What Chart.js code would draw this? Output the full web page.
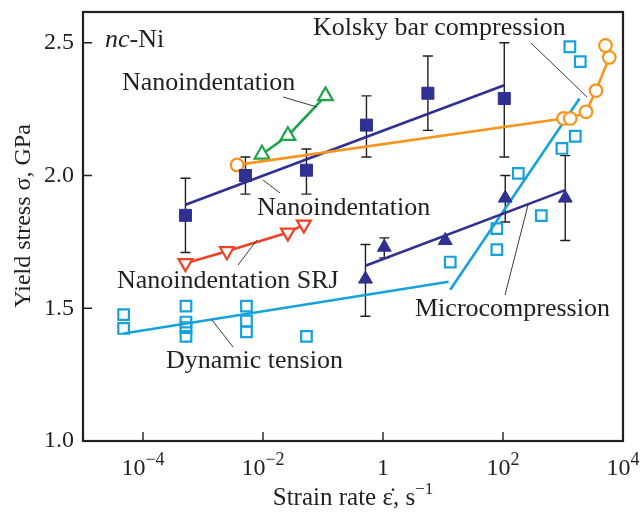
<!DOCTYPE html>
<html>
<head>
<meta charset="utf-8">
<title>nc-Ni yield stress vs strain rate</title>
<script src="https://cdn.jsdelivr.net/npm/chart.js@4.4.1/dist/chart.umd.min.js"></script>
<style>
  html, body { margin: 0; padding: 0; background: #fff; }
  #wrap { width: 642px; height: 512px; position: relative; }
</style>
</head>
<body>
<div id="wrap"><canvas id="chart"></canvas></div>
<script>
// ─── Data ────────────────────────────────────────────────────────────────
const xTickVals = [1e-4, 1e-2, 1, 1e2, 1e4];
const yTickVals = [1.0, 1.5, 2.0, 2.5];

// Nanoindentation: navy squares with error bars, and their fit line
const nanoX  = [5.1e-4, 5.1e-3, 5.3e-2, 0.53, 5.6, 105];
const nanoY  = [1.85, 2.00, 2.02, 2.19, 2.31, 2.29];
const nanoLo = [1.71, 1.93, 1.93, 2.07, 2.17, 2.07];
const nanoHi = [1.99, 2.07, 2.10, 2.30, 2.45, 2.50];
const nanoFitX = [5.1e-4, 105];
const nanoFitY = [1.89, 2.34];

// Nanoindentation: green open triangles
const greenX = [9.6e-3, 0.026, 0.11];
const greenY = [2.08, 2.15, 2.30];

// Nanoindentation SRJ: red open down-triangles
const srjX = [5.1e-4, 2.5e-3, 0.026, 0.048];
const srjY = [1.67, 1.715, 1.785, 1.815];

// Orange circles: low-rate point, Kolsky bar compression
const kolskyX = [3.7e-3, 1020, 1320, 2420, 3550, 5900, 5100];
const kolskyY = [2.04, 2.215, 2.215, 2.24, 2.32, 2.445, 2.49];

// Microcompression: navy filled triangles with error bars, and fit line
const microX  = [0.51, 1.05, 10.9, 109, 1090];
const microY  = [1.61, 1.73, 1.755, 1.915, 1.915];
const microLo = [1.47, 1.69, null, 1.825, 1.755];
const microHi = [1.74, 1.765, null, 2.00, 2.075];
const microFitX = [0.51, 1090];
const microFitY = [1.66, 1.945];

// Dynamic tension / high-rate: cyan open squares
const cyanX = [4.75e-5, 4.75e-5, 5.2e-4, 5.2e-4, 5.2e-4, 5.2e-4, 5.3e-3, 5.3e-3, 5.3e-3, 5.3e-2,
               13.2, 79, 79, 180, 435, 960, 1600, 1300, 1940];
const cyanY = [1.476, 1.424, 1.508, 1.448, 1.427, 1.394, 1.508, 1.452, 1.411, 1.394,
               1.674, 1.721, 1.800, 2.008, 1.849, 2.102, 2.148, 2.485, 2.429];
const tensionFitX = [4.75e-5, 12.4];
const tensionFitY = [1.405, 1.60];
const cyanFitX = [13.2, 1890];
const cyanFitY = [1.57, 2.29];

// ─── Styling ─────────────────────────────────────────────────────────────
const SERIF = "'Liberation Serif', 'Times New Roman', serif";
const COLORS = {
  ink:    '#231F20',
  navy:   '#2E3192',
  cyan:   '#17A1DD',
  orange: '#F7941D',
  green:  '#1FA34A',
  red:    '#EE4128',
  leader: '#3A3A3A',
};

const pts = (xs, ys) => xs.map((x, i) => ({ x, y: ys[i] }));

// text labels with their leader lines (canvas px)
const notes = [
  { text: 'Kolsky bar compression', x: 313, y: 28,  line: [531, 43, 587, 97] },
  { text: 'Nanoindentation',        x: 122, y: 83,  line: [283, 97, 317, 107] },
  { text: 'Nanoindentation',        x: 257, y: 208, line: [263, 180, 280, 193] },
  { text: 'Nanoindentation SRJ',    x: 117, y: 281, line: [257, 240, 238, 265] },
  { text: 'Dynamic tension',        x: 166, y: 361, line: [212, 320, 233, 347] },
  { text: 'Microcompression',       x: 415, y: 309, line: [528, 205, 505, 295] },
];

// ─── Drawing helpers: error bars, frame, ticks, titles, notes ───────────
const figurePlugin = {
  id: 'figure',
  beforeDatasetsDraw(chart) {
    const { ctx, scales: { x, y } } = chart;
    ctx.save();
    ctx.strokeStyle = COLORS.ink;
    ctx.lineWidth = 1.4;
    chart.data.datasets.forEach(ds => {
      if (!ds.errLo) return;
      ds.data.forEach((p, i) => {
        const lo = ds.errLo[i], hi = ds.errHi[i];
        if (lo == null) return;
        const px = x.getPixelForValue(p.x);
        const y1 = y.getPixelForValue(lo), y2 = y.getPixelForValue(hi);
        ctx.beginPath();
        ctx.moveTo(px, y1); ctx.lineTo(px, y2);
        ctx.moveTo(px - 5, y1); ctx.lineTo(px + 5, y1);
        ctx.moveTo(px - 5, y2); ctx.lineTo(px + 5, y2);
        ctx.stroke();
      });
    });
    ctx.restore();
  },
  afterDraw(chart) {
    const { ctx, chartArea: a, scales: { x, y } } = chart;
    ctx.save();

    // frame
    ctx.strokeStyle = COLORS.ink;
    ctx.lineWidth = 2.2;
    ctx.strokeRect(a.left, a.top, a.right - a.left, a.bottom - a.top);

    // inward ticks
    ctx.lineWidth = 1.4;
    ctx.beginPath();
    xTickVals.slice(0, -1).forEach(v => {
      const px = x.getPixelForValue(v);
      ctx.moveTo(px, a.bottom); ctx.lineTo(px, a.bottom - 9);
    });
    yTickVals.slice(1).forEach(v => {
      const py = y.getPixelForValue(v);
      ctx.moveTo(a.left, py); ctx.lineTo(a.left + 9, py);
    });
    ctx.stroke();

    // x tick labels: 10 with raised exponent
    ctx.fillStyle = COLORS.ink;
    ctx.textBaseline = 'alphabetic';
    ctx.textAlign = 'left';
    xTickVals.forEach(v => {
      const e = Math.round(Math.log10(v));
      const px = x.getPixelForValue(v);
      const base = e === 0 ? '1' : '10';
      const sup = e === 0 ? '' : (e < 0 ? '\u2212' + (-e) : String(e));
      ctx.font = `24px ${SERIF}`;
      const wb = ctx.measureText(base).width;
      ctx.font = `18px ${SERIF}`;
      const ws = ctx.measureText(sup).width;
      const x0 = px - (wb + ws) / 2;
      ctx.font = `24px ${SERIF}`;
      ctx.fillText(base, x0, 475);
      ctx.font = `18px ${SERIF}`;
      ctx.fillText(sup, x0 + wb, 465);
    });

    // x title
    const xt = 'Strain rate \u03B5\u0307, s';
    const xs = '\u22121';
    ctx.font = `25px ${SERIF}`;
    const wt = ctx.measureText(xt).width;
    ctx.font = `17px ${SERIF}`;
    const wxs = ctx.measureText(xs).width;
    const cx = (a.left + a.right) / 2;
    const tx0 = cx - (wt + wxs) / 2;
    ctx.font = `25px ${SERIF}`;
    ctx.fillText(xt, tx0, 505);
    ctx.font = `17px ${SERIF}`;
    ctx.fillText(xs, tx0 + wt, 494);

    // y title
    ctx.save();
    ctx.translate(24, 216);
    ctx.rotate(-Math.PI / 2);
    ctx.textAlign = 'center';
    ctx.textBaseline = 'middle';
    ctx.font = `24px ${SERIF}`;
    ctx.fillText('Yield stress \u03C3, GPa', 0, 0);
    ctx.restore();

    // nc-Ni
    ctx.textAlign = 'left';
    ctx.textBaseline = 'middle';
    ctx.font = `italic 26px ${SERIF}`;
    ctx.fillText('nc', 105, 40);
    const wnc = ctx.measureText('nc').width;
    ctx.font = `26px ${SERIF}`;
    ctx.fillText('-Ni', 105 + wnc, 40);

    // annotations with leader lines
    ctx.strokeStyle = COLORS.leader;
    ctx.lineWidth = 1;
    notes.forEach(n => {
      ctx.font = `26px ${SERIF}`;
      ctx.fillText(n.text, n.x, n.y);
      const [x1, y1, x2, y2] = n.line;
      ctx.beginPath();
      ctx.moveTo(x1, y1); ctx.lineTo(x2, y2);
      ctx.stroke();
    });

    ctx.restore();
  },
};

Chart.defaults.font.family = SERIF;
Chart.defaults.color = COLORS.ink;

const fitLine = (xs, ys, color) => ({
  data: pts(xs, ys),
  showLine: true,
  borderColor: color,
  borderWidth: 2.6,
  pointRadius: 0,
  fill: false,
});

new Chart(document.getElementById('chart'), {
  type: 'scatter',
  data: {
    datasets: [
      {
        data: pts(nanoX, nanoY),
        errLo: nanoLo, errHi: nanoHi,
        pointStyle: 'rect', pointRadius: 8.5,
        backgroundColor: COLORS.navy, borderColor: COLORS.navy, borderWidth: 1,
      },
      {
        data: pts(microX, microY),
        errLo: microLo, errHi: microHi,
        pointStyle: 'triangle', pointRadius: 8,
        backgroundColor: COLORS.navy, borderColor: COLORS.navy, borderWidth: 1,
      },
      {
        data: pts(kolskyX, kolskyY),
        showLine: true,
        borderColor: COLORS.orange, borderWidth: 2.6,
        pointStyle: 'circle', pointRadius: 6.3,
        pointBackgroundColor: '#fff', pointBorderColor: COLORS.orange, pointBorderWidth: 2.2,
      },
      {
        data: pts(greenX, greenY),
        showLine: true,
        borderColor: COLORS.green, borderWidth: 2.6,
        pointStyle: 'triangle', pointRadius: 8.5,
        pointBackgroundColor: '#fff', pointBorderColor: COLORS.green, pointBorderWidth: 2.2,
      },
      {
        data: pts(srjX, srjY),
        showLine: true,
        borderColor: COLORS.red, borderWidth: 2.6,
        pointStyle: 'triangle', pointRotation: 180, pointRadius: 8,
        pointBackgroundColor: '#fff', pointBorderColor: COLORS.red, pointBorderWidth: 2.2,
      },
      {
        data: pts(cyanX, cyanY),
        pointStyle: 'rect', pointRadius: 7.5,
        backgroundColor: 'rgba(255,255,255,0)', borderColor: COLORS.cyan, borderWidth: 2.2,
      },
      fitLine(nanoFitX, nanoFitY, COLORS.navy),
      fitLine(microFitX, microFitY, COLORS.navy),
      fitLine(tensionFitX, tensionFitY, COLORS.cyan),
      fitLine(cyanFitX, cyanFitY, COLORS.cyan),
    ],
  },
  options: {
    responsive: true,
    maintainAspectRatio: false,
    animation: false,
    layout: { padding: { left: 0, right: 19, top: 12, bottom: 0 } },
    plugins: {
      legend: { display: false },
      tooltip: { enabled: false },
    },
    scales: {
      x: {
        type: 'logarithmic',
        min: 1e-5, max: 1e4,
        grid: { display: false, drawTicks: false },
        border: { display: false },
        ticks: { display: false },
        afterBuildTicks: s => { s.ticks = xTickVals.map(v => ({ value: v })); },
        afterFit: s => { s.height = 71; s.paddingLeft = 0; s.paddingRight = 0; },
      },
      y: {
        min: 1.0, max: 2.616,
        grid: { display: false, drawTicks: false },
        border: { display: false },
        ticks: {
          color: COLORS.ink, padding: 9,
          font: { size: 24 },
          callback: v => v.toFixed(1),
        },
        afterBuildTicks: s => { s.ticks = yTickVals.map(v => ({ value: v })); },
        afterFit: s => { s.width = 83; s.paddingTop = 0; s.paddingBottom = 0; },
      },
    },
  },
  plugins: [figurePlugin],
});
</script>
</body>
</html>
